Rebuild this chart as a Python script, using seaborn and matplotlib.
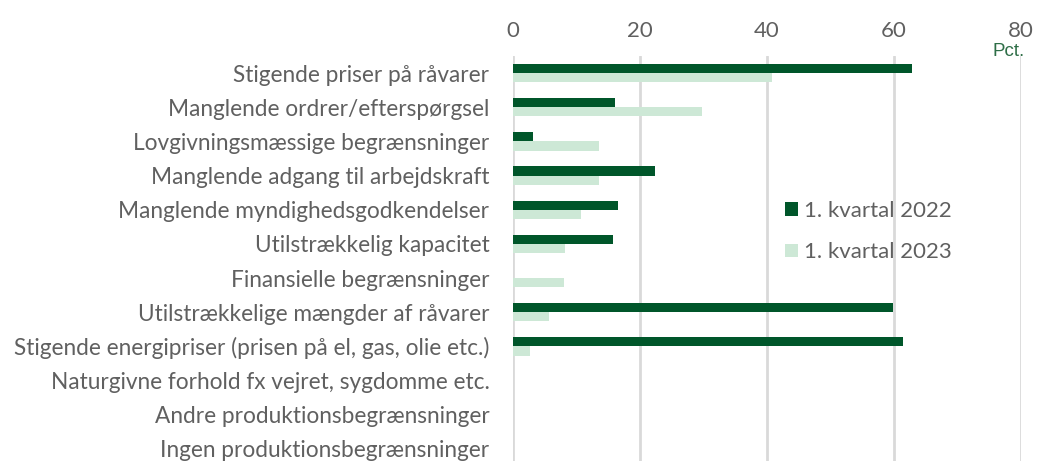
import matplotlib.pyplot as plt
import pandas as pd
import seaborn as sns

categories = [
    "Stigende priser på råvarer",
    "Manglende ordrer/efterspørgsel",
    "Lovgivningsmæssige begrænsninger",
    "Manglende adgang til arbejdskraft",
    "Manglende myndighedsgodkendelser",
    "Utilstrækkelig kapacitet",
    "Finansielle begrænsninger",
    "Utilstrækkelige mængder af råvarer",
    "Stigende energipriser (prisen på el, gas, olie etc.)",
    "Naturgivne forhold fx vejret, sygdomme etc.",
    "Andre produktionsbegrænsninger",
    "Ingen produktionsbegrænsninger",
]
q1_2022 = [62.8, 16.0, 3.1, 22.3, 16.6, 15.8, 0.0, 59.8, 61.4, 0.0, 0.0, 0.0]
q1_2023 = [40.8, 29.7, 13.6, 13.5, 10.7, 8.2, 8.1, 5.6, 2.7, 0.0, 0.0, 0.0]
series = ["1. kvartal 2022", "1. kvartal 2023"]
x_ticks = [0, 20, 40, 60, 80]

df = pd.DataFrame({
    "kategori": categories * 2,
    "serie": [series[0]] * len(categories) + [series[1]] * len(categories),
    "pct": q1_2022 + q1_2023,
})

sns.set_style("white")
plt.rcParams['font.family'] = ['Lato', 'DejaVu Sans']

grey = "#606060"
dark = "#00562A"
light = "#CDE8D6"

fig = plt.figure(figsize=(10.38, 4.61), dpi=100)
ax = fig.add_axes([513 / 1038, -5 / 461, (1021 - 513) / 1038, (466 - 56) / 461])

sns.barplot(data=df, y="kategori", x="pct", hue="serie", orient="h",
            palette=[dark, light], width=0.54, gap=0, ax=ax, saturation=1,
            linewidth=0)

ax.set_xlim(0, 80)
ax.set_ylim(len(categories) - 0.5, -0.5)
ax.set_xticks(x_ticks)
ax.xaxis.tick_top()
ax.tick_params(axis="x", length=0, pad=11, labelsize=16, colors=grey)
ax.tick_params(axis="y", length=0, pad=17, labelsize=16.3, colors=grey)
ax.grid(axis="x", color="#D9D9D9", linewidth=2)
ax.set_axisbelow(True)
for s in ax.spines.values():
    s.set_visible(False)
ax.set_xlabel("")
ax.set_ylabel("")

fig.text(1009 / 1038, 1 - 51 / 461, "Pct.", color="#2E6E47", fontsize=13.5,
         family="Liberation Sans", ha="center", va="center")

leg = ax.legend(loc="upper left", bbox_to_anchor=(0.497, 0.695), frameon=False,
                fontsize=16, handlelength=0.55, handleheight=0.55,
                handletextpad=0.3, labelspacing=0.95, labelcolor=grey)

fig.savefig("out.png", dpi=100)
